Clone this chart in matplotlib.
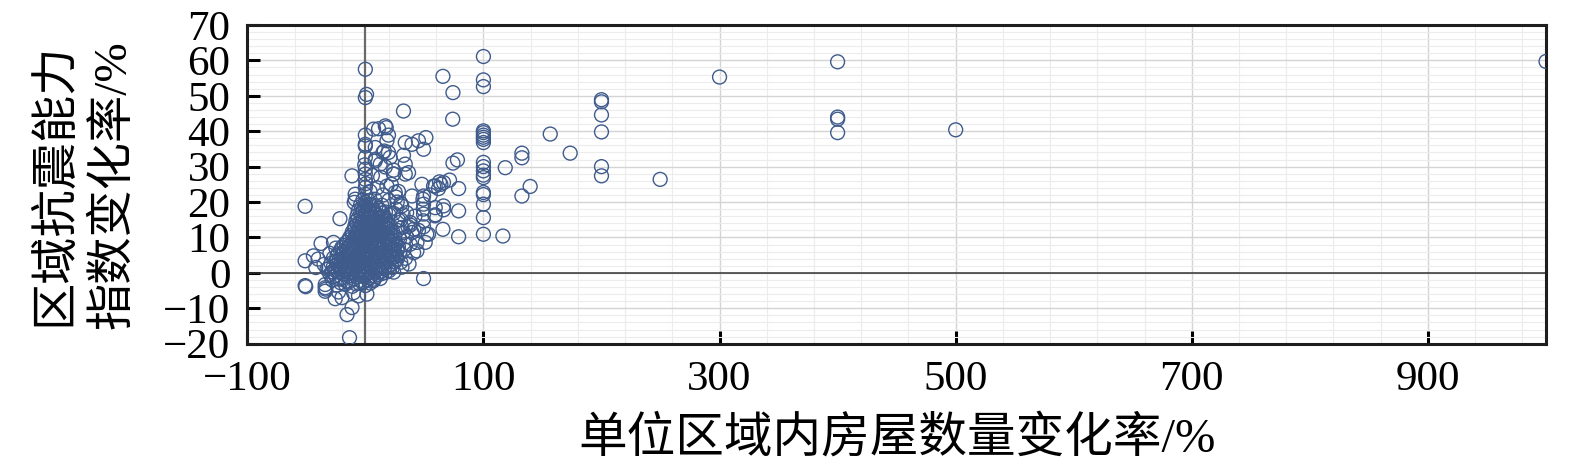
import numpy as np
import matplotlib.pyplot as plt
from matplotlib.ticker import MultipleLocator

plt.rcParams['font.family'] = ['Liberation Serif', 'Noto Sans CJK SC']
plt.rcParams['axes.unicode_minus'] = True

# dense core of the cloud (house change %, resistance change %)
core_pts = [
    (-24, -3.5), (-17, -3.2), (-11, -3.8), (-5, -3.0), (0, -3.6),
    (-28, -2), (-22, -1.8), (-16, -2.3), (-10, -1.6), (-4, -2.1), (2, -1.9), (7, -2.2),
    (-30, -0.4), (-25, -0.7), (-19, -0.3), (-13, -0.8), (-8, -0.2), (-3, -0.6), (1, -0.3),
    (5, -0.8), (10, -0.5), (14, -0.2),
    (-31, 1.2), (-26, 0.8), (-21, 1.1), (-16, 0.9), (-11, 1.3), (-6, 0.7), (-2, 1.2), (2, 0.9),
    (6, 1.4), (11, 1.0), (16, 1.3), (20, 0.6),
    (-29, 2.7), (-24, 2.3), (-19, 2.6), (-14, 2.2), (-9, 2.8), (-5, 2.4), (-1, 2.6), (3, 2.2),
    (7, 2.9), (12, 2.4), (17, 2.7), (22, 2.3),
    (-27, 4.2), (-22, 3.8), (-17, 4.1), (-12, 3.9), (-8, 4.3), (-4, 3.7), (0, 4.2), (4, 3.9),
    (8, 4.4), (13, 3.8), (18, 4.1), (23, 4.3), (27, 3.9),
    (-23, 5.4), (-18, 5.7), (-14, 5.3), (-10, 5.8), (-6, 5.4), (-2, 5.6), (2, 5.3), (6, 5.8),
    (10, 5.5), (15, 5.2), (20, 5.7), (25, 5.4), (29, 5.8),
    (-20, 7.1), (-15, 6.8), (-11, 7.3), (-7, 6.9), (-3, 7.2), (1, 6.8), (5, 7.3), (9, 7.0),
    (14, 6.7), (19, 7.2), (24, 6.9), (28, 7.3),
    (-16, 8.6), (-12, 8.3), (-8, 8.8), (-4, 8.4), (0, 8.7), (4, 8.2), (8, 8.6), (12, 8.9),
    (17, 8.4), (22, 8.7), (26, 8.3),
    (-13, 10.1), (-9, 9.8), (-5, 10.3), (-1, 9.9), (3, 10.2), (7, 9.7), (11, 10.4), (16, 10.0),
    (21, 9.8), (25, 10.3),
    (-11, 11.6), (-7, 11.3), (-3, 11.8), (1, 11.4), (5, 11.7), (9, 11.2), (14, 11.6), (19, 11.3),
    (23, 11.8),
    (-9, 13.1), (-5, 12.8), (-1, 13.3), (3, 12.9), (7, 13.2), (12, 12.7), (17, 13.1), (21, 13.4),
    (-8, 14.6), (-4, 14.3), (0, 14.8), (4, 14.4), (8, 14.7), (13, 14.2), (18, 14.6),
    (-7, 16.1), (-3, 15.8), (1, 16.3), (5, 15.9), (10, 16.2), (15, 15.8), (20, 16.4),
    (-6, 17.6), (-2, 17.3), (2, 17.8), (7, 17.4), (12, 17.7), (17, 17.2),
    (-4, 19.2), (0, 18.8), (4, 19.3), (9, 18.9), (14, 19.1),
    (-2, 20.6), (3, 20.3), (8, 20.8),
]

# more points packed between the rows of the core
core_fill_pts = [
    (-21, -2.8), (-14, -2.6), (-8, -3.1), (-2, -2.7), (4, -2.9),
    (-27, -1.1), (-20, -1.3), (-14, -0.9), (-7, -1.2), (-1, -1.0), (4, -1.4), (9, -1.1),
    (-28, 0.3), (-23, 0.2), (-17, 0.4), (-12, 0.1), (-6, 0.3), (-1, 0.5), (3, 0.2), (8, 0.4),
    (13, 0.3), (17, 0.1),
    (-27, 1.8), (-22, 1.9), (-17, 1.7), (-13, 1.9), (-8, 1.6), (-4, 1.9), (0, 1.7), (4, 1.8),
    (9, 1.6), (14, 1.9), (19, 1.7), (23, 1.5),
    (-25, 3.3), (-20, 3.1), (-15, 3.4), (-10, 3.2), (-6, 3.3), (-2, 3.1), (2, 3.4), (6, 3.2),
    (10, 3.4), (15, 3.1), (20, 3.3), (25, 3.1),
    (-24, 4.8), (-20, 4.9), (-15, 4.7), (-11, 4.8), (-7, 5.0), (-3, 4.7), (1, 4.9), (5, 4.6),
    (9, 4.9), (12, 4.7), (16, 4.8), (21, 4.9), (26, 4.6),
    (-21, 6.3), (-16, 6.1), (-12, 6.4), (-8, 6.2), (-4, 6.4), (0, 6.1), (4, 6.3), (8, 6.2),
    (12, 6.4), (17, 6.1), (22, 6.3), (27, 6.2),
    (-18, 7.8), (-13, 7.7), (-9, 7.9), (-5, 7.7), (-1, 7.9), (3, 7.6), (7, 7.9), (11, 7.7),
    (16, 7.9), (21, 7.6), (25, 7.8),
    (-14, 9.3), (-10, 9.1), (-6, 9.4), (-2, 9.2), (2, 9.4), (6, 9.1), (10, 9.3), (14, 9.2),
    (19, 9.4), (23, 9.1),
    (-11, 10.8), (-7, 10.6), (-3, 10.9), (1, 10.7), (5, 10.9), (9, 10.6), (13, 10.8), (18, 10.7),
    (22, 10.9),
    (-9, 12.3), (-5, 12.1), (-1, 12.4), (3, 12.2), (7, 12.5), (11, 12.1), (15, 12.3), (19, 12.2),
    (-7, 13.8), (-3, 13.6), (1, 13.9), (5, 13.7), (10, 13.9), (15, 13.6), (19, 13.9),
    (-6, 15.3), (-2, 15.1), (3, 15.4), (7, 15.2), (12, 15.4), (17, 15.1),
    (-4, 16.8), (0, 16.6), (4, 16.9), (9, 16.7), (14, 16.9),
    (-3, 18.3), (2, 18.1), (6, 18.4), (11, 18.2),
    (29, 9.5), (31, 12.8), (33, 6.6), (35, 10.2), (28, 14.9), (32, 16.4), (36, 13.1),
    (30, 19.6), (24, 16.8), (26, 21.4), (38, 8.1), (41, 12.3), (34, 4.1), (31, 1.6),
]

# scattered points around the core
outer_pts = [
    (-51, 18.8), (-21.5, 15.3), (-37.5, 8.3), (-27, 8.6), (-51, 3.4), (-40, 3.9), (-42, 1.5),
    (-35, 2.4), (-32.5, 1), (-51, -3.6), (-50.5, -3.9), (-34, -3.3), (-34, -4.2), (-34, -5.2),
    (-33.5, -4.6), (-25.5, -7.3), (-19.8, -7), (-22.7, -5.4), (-10, -5.6), (-5.8, -6.5),
    (1.3, -6), (-11.3, -9.8), (-15.5, -11.8), (-13.4, -18.3), (12.6, -1.6), (7, -1.8),
    (24, 0.2), (49.3, -1.6), (-30, 5.5), (-25, 7), (-44, 4.8),
    (0, 57.5), (1, 50.4), (0, 49.5), (0, 38.9), (0, 36.3), (0, 35.8), (0, 32.6), (0, 29.3),
    (0, 27.9), (0, 26.4), (0, 24.1), (0, 22.2), (0, 19.9), (-0.5, 30.5), (0.5, 25.2),
    (-8.6, 22.2), (-9.4, 19.9), (-11.3, 27.4), (-8.6, 20.8),
    (7, 40.6), (11.2, 40.7), (16.9, 41.5), (17.7, 41.0), (19.6, 38.9), (8.4, 35.4), (14.9, 34),
    (19.6, 34), (33.8, 36.8), (39.5, 36.3), (45, 37.3), (51.3, 38.2), (49.3, 34.9), (32.3, 33.2),
    (32.3, 45.7), (8.4, 32.1), (16.9, 29.9), (24, 29), (33.8, 30.7), (36.6, 28.3), (12.6, 30.7),
    (21, 32.6), (23.9, 27.9), (18.3, 24.5), (25.3, 22.7), (39.5, 21.7), (30.9, 18.9),
    (48.8, 20.8), (57.8, 24.5), (49.3, 19.4), (49.3, 16.6), (49.3, 14.7), (49.3, 13),
    (49.3, 21.7), (49, 18), (59, 16.1), (52, 10.9), (38, 13.5), (39.5, 11.4), (43.7, 8.6),
    (43.7, 6.2), (40.9, 5.7), (32.3, 11.4), (38, 14.2), (16, 34.4), (18.3, 37.3), (8.4, 31.6),
    (33.8, 27.9), (24, 27.9), (47.9, 25), (28, 23), (30, 15), (35, 17), (27, 12), (34, 8),
    (30, 3), (37, 2.5), (42, 16), (45, 12), (26, 18), (22, 25), (13, 27), (10, 24), (15, 22),
    (27, 20), (6, 27.5), (4, 23), (20, 20.5),
    (65.7, 55.5), (74.2, 50.9), (74, 43.4), (78, 31.9), (74.2, 31.0), (71.3, 26.2), (66.2, 25.5),
    (64, 25), (59.2, 24.5), (62, 23.8), (79, 23.8), (66.2, 18.9), (66.2, 17.8), (79, 17.5),
    (59.2, 16.4), (65.7, 12.3), (79, 10.2), (53.5, 10.9), (50.7, 8.6), (59.2, 18.4), (55, 22),
    (62.8, 25.7),
]

# the vertical run at +100 %
col100_y = [61.1, 54.5, 52.6, 40.1, 39.6, 38.9, 38.3, 37.7, 36.8, 31.2, 30.0, 28.8,
            27.6, 26.9, 22.7, 22.1, 19.4, 15.6, 10.9]

# sparse points further right
far_x = [116.5, 118.5, 132.6, 132.6, 139.6, 132.6, 156.6, 173.5, 200, 200, 200, 200,
         200, 200, 249.7, 300, 400, 400, 400, 400, 500, 1000]
far_y = [10.4, 29.7, 33.8, 32.5, 24.4, 21.7, 39.2, 33.8, 48.9, 48.3, 44.6, 39.8,
         30.0, 27.4, 26.4, 55.3, 59.6, 44.0, 43.4, 39.6, 40.4, 59.7]

x_ticks = [-100, 100, 300, 500, 700, 900]
y_ticks = [-20, -10, 0, 10, 20, 30, 40, 50, 60, 70]

core = np.array(core_pts + core_fill_pts)
outer = np.array(outer_pts)
xs = np.concatenate([core[:, 0], outer[:, 0], np.full(len(col100_y), 100.0), far_x])
ys = np.concatenate([core[:, 1], outer[:, 1], col100_y, far_y])

fig, ax = plt.subplots(figsize=(15.75, 4.76), dpi=100)
fig.subplots_adjust(left=0.157, right=0.9816, top=0.9475, bottom=0.278)

ax.set_xlim(-100, 1000)
ax.set_ylim(-20, 70)

ax.set_xticks(x_ticks)
ax.set_xticklabels([str(t).replace('-', '\u2212') for t in x_ticks])
ax.set_yticks(y_ticks)
ax.set_yticklabels([str(t).replace('-', '\u2212') for t in y_ticks])
ax.xaxis.set_minor_locator(MultipleLocator(40, offset=20))
ax.yaxis.set_minor_locator(MultipleLocator(2))

ax.grid(which='major', color='#d4d4d4', lw=1.0, zorder=0)
ax.grid(which='minor', color='#ececec', lw=0.8, zorder=0)
ax.set_axisbelow(True)

ax.axvline(0, color='#6a6a6a', lw=1.6, zorder=1)
ax.axhline(0, color='#333333', lw=1.1, zorder=1)

ax.scatter(xs, ys, s=100, facecolors='none', edgecolors='#3f5b8c', linewidths=1.0, zorder=3)

for sp in ax.spines.values():
    sp.set_linewidth(2.2)
    sp.set_color('#1e1e1e')

ax.tick_params(which='major', direction='in', length=9.5, width=2.2, labelsize=31,
               top=False, right=False, pad=12)
ax.tick_params(which='minor', length=0)

ax.set_xlabel('单位区域内房屋数量变化率/%', fontsize=35, labelpad=12)
ax.set_ylabel('区域抗震能力\n指数变化率/%', fontsize=34, linespacing=1.4)
ax.yaxis.set_label_coords(-0.086, 0.5)

fig.savefig('out.png', dpi=100)
